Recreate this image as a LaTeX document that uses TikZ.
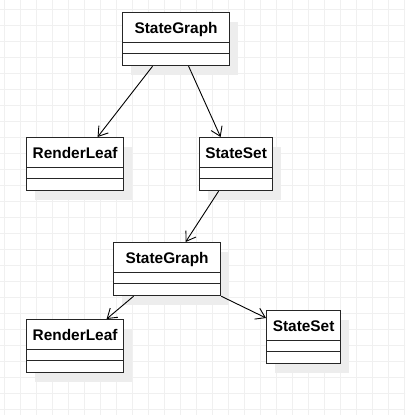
\documentclass[tikz,border=0pt]{standalone}
\usepackage{fontspec}
\setmainfont{Liberation Sans}
\usetikzlibrary{arrows.meta,shadows}
\tikzset{
    gridline/.style={draw=black!6, line width=0.8pt, step=16pt},
    umlclass/.style={draw=black!85, line width=1.2pt, fill=white, anchor=north west,
        minimum height=53pt, inner xsep=0pt, inner ysep=4.5pt,
        text height=16.5pt, text depth=27.5pt,
        font=\bfseries\fontsize{15.4}{18}\selectfont,
        drop shadow={shadow xshift=8pt, shadow yshift=-9pt, fill=black!7, opacity=1},
        path picture={
            \draw[line width=1.2pt, black!85]
            ([yshift=-30pt]path picture bounding box.north west) -- ([yshift=-30pt]path picture bounding box.north east)
            ([yshift=-41pt]path picture bounding box.north west) -- ([yshift=-41pt]path picture bounding box.north east);
        }},
    assoc/.style={-{Straight Barb[length=9pt,width=12pt]}, line width=0.9pt},
}
\begin{document}
\begin{tikzpicture}[x=1pt,y=-1pt]
    \useasboundingbox (0,0) rectangle (405,415);
    \begin{scope}
    \clip (0,0) rectangle (405,415);
    \draw[gridline, shift={(4.3,9.3)}] (-16,416) grid (416,-16);
    \end{scope}
    \node[umlclass, minimum width=107pt] (sg1) at (122,12) {StateGraph};
    \node[umlclass, minimum width=97pt] (rl1) at (26,137) {RenderLeaf};
    \node[umlclass, minimum width=73pt] (ss1) at (199,137) {StateSet};
    \node[umlclass, minimum width=107pt] (sg2) at (113,242) {StateGraph};
    \node[umlclass, minimum width=97pt] (rl2) at (26,319) {RenderLeaf};
    \node[umlclass, minimum width=74pt] (ss2) at (266,310) {StateSet};
    \draw[assoc] ([xshift=-23.5pt]sg1.south) -- ([xshift=22.5pt]rl1.north);
    \draw[assoc] ([xshift=12.5pt]sg1.south) -- ([xshift=-15.5pt]ss1.north);
    \draw[assoc] ([xshift=-17.5pt]ss1.south) -- ([xshift=18.5pt]sg2.north);
    \draw[assoc] ([xshift=-33.5pt]sg2.south) -- ([xshift=31.5pt]rl2.north);
    \draw[assoc] (sg2.south east) -- ([yshift=-8pt]ss2.north west);
  \end{tikzpicture}
\end{document}
